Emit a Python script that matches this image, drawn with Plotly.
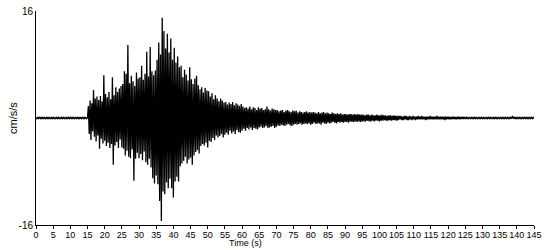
import numpy as np
import plotly.graph_objects as go

# Sampling of the record (seconds)
t_start = 0.0
t_step = 0.25

# Acceleration values (cm/s/s), one row = 5 s
pre_event = [
    0.09, -0.08, 0.1, -0.09, 0.08, -0.1, 0.09, -0.08, 0.1, -0.09, 0.08, -0.09, 0.1, -0.08, 0.09, -0.1, 0.08, -0.09, 0.1, -0.08,
    0.09, -0.1, 0.08, -0.09, 0.1, -0.08, 0.09, -0.09, 0.08, -0.1, 0.09, -0.08, 0.1, -0.09, 0.08, -0.09, 0.1, -0.08, 0.09, -0.1,
    0.08, -0.09, 0.1, -0.08, 0.09, -0.1, 0.08, -0.09, 0.1, -0.08, 0.09, -0.09, 0.08, -0.1, 0.09, -0.08, 0.1, -0.09, 0.08, -0.09,
    0.09,
]
strong_motion = [
    1.8, -2.4, 2.6, -3.3, 2.2, -2.0, 4.2, -2.8, 2.9, -3.5, 3.2, -2.6, 2.7, -4.6, 3.3, -3.1, 2.5, -3.8, 6.4, -3.4,
    3.6, -4.2, 3.1, -3.7, 3.9, -4.5, 2.8, -3.9, 6.1, -7.0, 3.4, -4.1, 4.6, -3.6, 3.9, -4.5, 4.4, -3.2, 4.8, -4.4,
    5.1, -4.6, 7.0, -5.6, 6.6, -4.9, 10.9, -5.8, 5.2, -6.0, 6.3, -4.7, 5.5, -9.4, 4.8, -6.1, 6.8, -5.2, 5.9, -6.0,
    6.1, -5.4, 7.8, -6.3, 5.7, -5.0, 6.6, -6.6, 9.9, -7.0, 6.2, -6.1, 10.6, -7.4, 7.0, -9.0, 6.4, -9.8, 7.1, -8.6,
    8.7, -9.9, 11.3, -12.4, 9.5, -15.4, 15.0, -11.0, 13.0, -11.4, 10.4, -9.6, 12.6, -10.5, 9.8, -9.1, 11.9, -10.5, 8.7, -11.9,
    10.5, -9.5, 8.3, -8.8, 9.2, -9.5, 7.6, -7.2, 7.8, -6.8, 6.1, -6.4, 7.2, -5.8, 6.5, -6.8, 5.6, -6.2, 7.6, -5.9,
    5.8, -7.0, 5.1, -5.6, 5.9, -5.1, 6.3, -4.8, 4.9, -5.3, 4.3, -4.2, 4.6, -3.9, 3.8, -4.1, 4.5, -3.7, 4.1, -4.4,
    4.0, -3.4, 3.2, -3.6, 3.7, -3.0, 2.8, -3.3, 3.4, -2.6, 2.9, -2.9, 2.5, -2.7, 2.9, -2.4, 2.6, -2.9, 2.3, -2.5,
    2.4, -2.2, 2.0, -2.5, 2.3, -1.9, 2.1, -2.3, 2.4, -2.0, 1.9, -2.4, 2.2, -1.8, 2.0, -2.1, 1.8, -2.2, 2.1, -1.9,
    1.7, -1.6, 1.5, -1.9, 1.6, -1.5, 1.4, -1.7, 1.7, -1.4, 1.3, -1.8, 1.6, -1.5, 1.5, -1.6, 1.2, -1.7, 1.6, -1.4,
    1.4, -1.3, 1.5, -1.5, 1.2, -1.4, 1.3, -1.2, 1.7, -1.5, 1.3, -1.4, 1.1, -1.3, 1.4, -1.2, 1.3, -1.5, 1.2, -1.3,
]
coda = [
    1.2, -1.1, 1.0, -1.2, 1.1, -1.0, 1.2, -1.1, 0.9, -1.2, 1.1, -1.0, 1.2, -0.9, 1.0, -1.1, 0.9, -1.2, 1.1, -1.0,
    1.0, -0.9, 1.1, -1.0, 0.8, -0.9, 1.0, -0.8, 0.9, -1.0, 0.8, -0.9, 0.9, -0.8, 1.0, -0.9, 0.8, -0.8, 0.9, -1.0,
    0.8, -0.9, 0.9, -0.7, 0.8, -0.9, 0.7, -0.8, 0.9, -0.8, 0.7, -1.0, 0.8, -0.7, 0.9, -0.8, 0.7, -0.9, 0.8, -0.7,
    0.7, -0.8, 0.6, -0.7, 0.8, -0.6, 0.7, -0.7, 0.6, -0.8, 0.7, -0.6, 0.6, -0.7, 0.7, -0.6, 0.5, -0.7, 0.6, -0.6,
    0.6, -0.6, 0.5, -0.7, 0.6, -0.5, 0.6, -0.6, 0.5, -0.6, 0.6, -0.5, 0.5, -0.6, 0.6, -0.5, 0.5, -0.6, 0.5, -0.5,
    0.5, -0.5, 0.4, -0.5, 0.5, -0.4, 0.5, -0.5, 0.4, -0.5, 0.5, -0.4, 0.4, -0.5, 0.4, -0.4, 0.5, -0.4, 0.4, -0.5,
    0.4, -0.4, 0.5, -0.4, 0.4, -0.3, 0.4, -0.4, 0.3, -0.4, 0.4, -0.3, 0.4, -0.4, 0.3, -0.3, 0.4, -0.3, 0.3, -0.4,
    0.3, -0.3, 0.3, -0.2, 0.3, -0.3, 0.2, -0.3, 0.3, -0.2, 0.3, -0.3, 0.2, -0.3, 0.3, -0.2, 0.2, -0.3, 0.3, -0.2,
    0.2, -0.3, 0.2, -0.2, 0.3, -0.2, 0.2, -0.2, 0.3, -0.2, 0.2, -0.2, 0.2, -0.3, 0.2, -0.2, 0.2, -0.2, 0.3, -0.2,
    0.2, -0.2, 0.2, -0.2, 0.2, -0.2, 0.3, -0.2, 0.2, -0.2, 0.2, -0.2, 0.2, -0.2, 0.2, -0.3, 0.2, -0.2, 0.2, -0.2,
    0.2, -0.2, 0.15, -0.2, 0.2, -0.15, 0.2, -0.2, 0.15, -0.2, 0.2, -0.15, 0.2, -0.2, 0.15, -0.15, 0.2, -0.15, 0.15, -0.15,
]
tail = [
    0.1, -0.09, 0.09, -0.1, 0.08, -0.09, 0.1, -0.08, 0.09, -0.1, 0.09, -0.08, 0.1, -0.09, 0.08, -0.1, 0.09, -0.09, 0.1, -0.08,
    0.09, -0.1, 0.08, -0.09, 0.1, -0.09, 0.09, -0.08, 0.1, -0.09, 0.08, -0.1, 0.09, -0.08, 0.1, -0.09, 0.09, -0.1, 0.08, -0.09,
    0.1, -0.08, 0.09, -0.1, 0.09, -0.09, 0.08, -0.1, 0.1, -0.09, 0.09, -0.08, 0.1, -0.09, 0.3, -0.1, 0.09, -0.08, 0.1, -0.09,
    0.08, -0.1, 0.09, -0.09, 0.1, -0.08, 0.09, -0.1, 0.08, -0.09, 0.1, -0.09, 0.09, -0.08, 0.1, -0.09, 0.08, -0.1, 0.09, -0.08,
]

accel = pre_event + strong_motion + coda + tail
time_s = t_start + t_step * np.arange(len(accel))

x_ticks = list(range(0, 150, 5))
y_ticks = [-16, 16]

fig = go.Figure(
    go.Scatter(
        x=time_s, y=accel, mode="lines",
        line=dict(color="black", width=1.3, simplify=False),
        hoverinfo="skip",
    )
)

family = "Liberation Sans, Arial, sans-serif"
tick_font = dict(family=family, size=9, color="black")
title_font = dict(family=family, size=9, color="black")
ytitle_font = dict(family=family, size=11, color="black")

fig.update_layout(
    width=550, height=250,
    margin=dict(l=36, r=16, t=5, b=25),
    paper_bgcolor="white", plot_bgcolor="white",
    showlegend=False,
    font=tick_font,
    xaxis=dict(
        range=[0, 145], tickvals=x_ticks, ticktext=[str(v) for v in x_ticks],
        tickangle=0, showline=True, linecolor="black", linewidth=1,
        ticks="outside", ticklen=3, tickcolor="black", tickwidth=1,
        ticklabelstandoff=-2,
        showgrid=False, zeroline=False, tickfont=tick_font,
    ),
    yaxis=dict(
        range=[-16, 16], tickvals=y_ticks, ticktext=["-16", "16"],
        showline=True, linecolor="black", linewidth=1,
        ticks="", showgrid=False, zeroline=False,
        tickfont=dict(family=family, size=10, color="black"),
        ticklabeloverflow="allow",
    ),
    annotations=[
        dict(text="Time (s)", xref="paper", yref="paper", x=61 / 145, y=-25 / 220,
             xanchor="center", yanchor="bottom", borderpad=0, showarrow=False, font=title_font),
        dict(text="cm/s/s", xref="paper", yref="paper", x=-23 / 498, y=0.5,
             xanchor="center", yanchor="middle", textangle=-90, showarrow=False, font=ytitle_font),
    ],
)

fig.write_html("out.html")
